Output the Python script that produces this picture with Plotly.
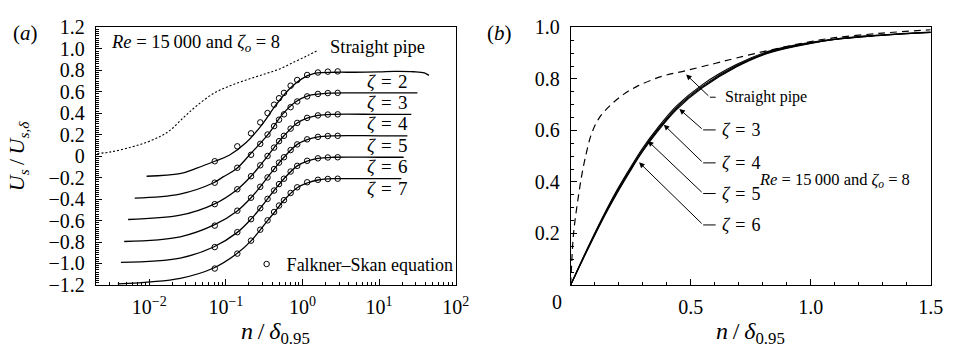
import plotly.graph_objects as go

FONT = "Liberation Serif, Times New Roman, DejaVu Serif, serif"

# ---------------- panel (a): semi-log profiles, each ζ shifted down by 0.2 ----------------
A_ZETA2_X = [0.00923, 0.0251, 0.0417, 0.0716, 0.112, 0.184, 0.302, 0.448, 0.665, 0.991,
             1.47, 2.67, 4.79, 10.0, 15.8, 28.2, 38.9, 44.7]
A_ZETA2_Y = [-0.187, -0.163, -0.111, -0.047, 0.011, 0.127, 0.302, 0.476, 0.622, 0.723,
             0.773, 0.782, 0.782, 0.785, 0.790, 0.787, 0.776, 0.753]

A_ZETA3_X = [0.00646, 0.0251, 0.0682, 0.0918, 0.136, 0.203, 0.367, 0.547, 0.811, 1.20,
             2.19, 5.0, 10.0, 31.6]
A_ZETA3_Y = [-0.390, -0.353, -0.250, -0.193, -0.120, 0.011, 0.215, 0.389, 0.505, 0.564,
             0.587, 0.590, 0.590, 0.590]

A_ZETA4_X = [0.0053, 0.0254, 0.0692, 0.141, 0.213, 0.281, 0.350, 0.426, 0.573, 0.853,
             1.15, 1.59, 2.5, 10.0, 26.3]
A_ZETA4_Y = [-0.590, -0.550, -0.449, -0.310, -0.187, -0.085, 0.000, 0.080, 0.190, 0.310,
             0.355, 0.380, 0.390, 0.390, 0.390]

A_ZETA5_X = [0.00471, 0.0254, 0.0692, 0.141, 0.213, 0.281, 0.350, 0.426, 0.573, 0.853,
             1.15, 1.59, 2.5, 10.0, 23.4]
A_ZETA5_Y = [-0.795, -0.751, -0.643, -0.510, -0.387, -0.285, -0.198, -0.120, -0.010, 0.110,
             0.155, 0.180, 0.190, 0.190, 0.190]

A_ZETA6_X = [0.00427, 0.0254, 0.0692, 0.141, 0.213, 0.281, 0.350, 0.426, 0.573, 0.853,
             1.15, 1.59, 2.5, 10.0, 20.9]
A_ZETA6_Y = [-0.990, -0.949, -0.846, -0.710, -0.587, -0.485, -0.398, -0.320, -0.210, -0.090,
             -0.045, -0.020, -0.010, -0.010, -0.010]

A_ZETA7_X = [0.00389, 0.0254, 0.0692, 0.141, 0.213, 0.281, 0.350, 0.426, 0.573, 0.853,
             1.15, 1.59, 2.5, 10.0, 19.5]
A_ZETA7_Y = [-1.190, -1.138, -1.042, -0.905, -0.789, -0.687, -0.600, -0.527, -0.411, -0.294,
             -0.250, -0.222, -0.210, -0.210, -0.210]

A_PIPE_X = [0.0021, 0.00316, 0.00575, 0.00933, 0.014, 0.0186, 0.028, 0.0417, 0.0692, 0.112,
            0.184, 0.302, 0.49, 0.813, 1.20, 1.62]
A_PIPE_Y = [0.025, 0.040, 0.084, 0.130, 0.186, 0.240, 0.360, 0.470, 0.585, 0.655,
            0.710, 0.760, 0.810, 0.884, 0.942, 0.990]

# Falkner–Skan solution (same profile for every ζ, then shifted)
FS_X = [0.0716, 0.141, 0.213, 0.281, 0.350, 0.426, 0.494, 0.573, 0.70, 0.853, 1.15, 1.59, 2.14, 2.88]
FS_U = [0.153, 0.292, 0.413, 0.515, 0.602, 0.680, 0.740, 0.790, 0.857, 0.910, 0.957, 0.980, 0.988, 0.990]
ZETAS = [2, 3, 4, 5, 6, 7]
SHIFTS = [-0.2, -0.4, -0.6, -0.8, -1.0, -1.2]
ZETA_LABEL_Y = [0.7, 0.5, 0.3, 0.1, -0.1, -0.3]

A_Y_TICKS = [-1.2, -1.0, -0.8, -0.6, -0.4, -0.2, 0, 0.2, 0.4, 0.6, 0.8, 1.0, 1.2]
A_Y_TEXT = ["−1.2", "−1.0", "−0.8", "−0.6", "−0.4", "−0.2", "0", "0.2", "0.4", "0.6", "0.8", "1.0", "1.2"]
A_X_TICKS = [0.01, 0.1, 1, 10, 100]
A_X_TEXT = ["10<sup>−2</sup>", "10<sup>−1</sup>", "10<sup>0</sup>", "10<sup>1</sup>", "10<sup>2</sup>"]

# ---------------- panel (b): linear profiles ----------------
B_X = [0, 0.05, 0.1, 0.15, 0.2, 0.25, 0.3, 0.36, 0.44, 0.55, 0.69, 0.83, 1.0, 1.1, 1.25, 1.5]
B_ZETA3_Y = [0, 0.103, 0.201, 0.294, 0.380, 0.458, 0.532, 0.607, 0.694, 0.779, 0.856, 0.909, 0.942, 0.955, 0.968, 0.982]
B_ZETA4_Y = [0, 0.101, 0.198, 0.290, 0.375, 0.453, 0.526, 0.601, 0.688, 0.773, 0.852, 0.906, 0.940, 0.954, 0.967, 0.981]
B_ZETA5_Y = [0, 0.099, 0.195, 0.286, 0.371, 0.449, 0.522, 0.597, 0.684, 0.769, 0.849, 0.904, 0.939, 0.953, 0.966, 0.980]
B_ZETA6_Y = [0, 0.097, 0.192, 0.283, 0.367, 0.445, 0.518, 0.593, 0.680, 0.766, 0.846, 0.902, 0.938, 0.953, 0.966, 0.980]

B_PIPE_X = [0, 0.004, 0.008, 0.012, 0.018, 0.03, 0.045, 0.06, 0.086, 0.12, 0.168, 0.22, 0.278,
            0.38, 0.484, 0.6, 0.689, 0.826, 1.0, 1.1, 1.3, 1.5]
B_PIPE_Y = [0, 0.08, 0.15, 0.20, 0.25, 0.33, 0.42, 0.49, 0.585, 0.65, 0.70, 0.74, 0.772,
            0.81, 0.833, 0.86, 0.881, 0.911, 0.945, 0.96, 0.978, 0.991]

# arrow callouts: label, text position, leader tail, arrow head
B_CALLOUTS = [
    ("Straight pipe", 0.633, 0.729, 0.580, 0.729, 0.481, 0.817),
    ("<i>ζ</i>\u2004=\u20043", 0.622, 0.602, 0.552, 0.602, 0.453, 0.683),
    ("<i>ζ</i>\u2004=\u20044", 0.622, 0.474, 0.552, 0.474, 0.388, 0.622),
    ("<i>ζ</i>\u2004=\u20045", 0.622, 0.355, 0.552, 0.355, 0.322, 0.559),
    ("<i>ζ</i>\u2004=\u20046", 0.622, 0.233, 0.552, 0.233, 0.285, 0.476),
]

A_CURVES = [(A_ZETA2_X, A_ZETA2_Y), (A_ZETA3_X, A_ZETA3_Y), (A_ZETA4_X, A_ZETA4_Y),
            (A_ZETA5_X, A_ZETA5_Y), (A_ZETA6_X, A_ZETA6_Y), (A_ZETA7_X, A_ZETA7_Y)]
B_CURVES = [B_ZETA3_Y, B_ZETA4_Y, B_ZETA5_Y, B_ZETA6_Y]

BLACK = "black"
fig = go.Figure()

# panel (a)
fig.add_trace(go.Scatter(x=A_PIPE_X, y=A_PIPE_Y, mode="lines", line=dict(color=BLACK, width=1.1, dash="2px,2px"),
                         line_shape="spline", showlegend=False, xaxis="x", yaxis="y"))
for (cx, cy) in A_CURVES:
    fig.add_trace(go.Scatter(x=cx, y=cy, mode="lines", line=dict(color=BLACK, width=1.3),
                             line_shape="spline", showlegend=False, xaxis="x", yaxis="y"))
for i, (z, s) in enumerate(zip(ZETAS, SHIFTS)):
    fig.add_trace(go.Scatter(x=FS_X, y=[u + s for u in FS_U], mode="markers",
                             marker=dict(symbol="circle-open", size=5.5, color=BLACK, line=dict(width=1)),
                             name="Falkner–Skan equation", showlegend=(i == 0), xaxis="x", yaxis="y"))

# panel (b)
fig.add_trace(go.Scatter(x=B_PIPE_X, y=B_PIPE_Y, mode="lines", line=dict(color=BLACK, width=1.2, dash="7px,5px"),
                         line_shape="spline", showlegend=False, xaxis="x2", yaxis="y2"))
for cy in B_CURVES:
    fig.add_trace(go.Scatter(x=B_X, y=cy, mode="lines", line=dict(color=BLACK, width=1.1),
                             line_shape="spline", showlegend=False, xaxis="x2", yaxis="y2"))

tickfont = dict(family=FONT, size=20, color=BLACK)
XA = [97 / 960, 462 / 960]
XB = [578.5 / 960, 943.5 / 960]
YD = [1 - 292 / 356, 1 - 17.5 / 356]

base = dict(showgrid=False, zeroline=False, showline=True, linecolor=BLACK, linewidth=1,
            tickcolor=BLACK, tickwidth=1, tickfont=tickfont, mirror=True)

fig.update_layout(
    width=960, height=356, margin=dict(l=0, r=0, t=0, b=0),
    paper_bgcolor="white", plot_bgcolor="white",
    font=dict(family=FONT, color=BLACK),
    xaxis=dict(base, domain=XA, anchor="y", type="log", range=[-2.699, 2],
               tickmode="array", tickvals=A_X_TICKS, ticktext=A_X_TEXT,
               ticks="inside", ticklen=6, ticklabelstandoff=4,
               minor=dict(ticks="inside", ticklen=3, dtick="D1", tickcolor=BLACK)),
    yaxis=dict(base, domain=YD, anchor="x", range=[-1.2, 1.2],
               tickmode="array", tickvals=A_Y_TICKS, ticktext=A_Y_TEXT,
               ticks="inside", ticklen=6, ticklabelstandoff=6,
               minor=dict(ticks="inside", ticklen=3, dtick=0.02, tickcolor=BLACK)),
    xaxis3=dict(overlaying="x", anchor="y", side="top", type="log", range=[-2.699, 2],
                showgrid=False, zeroline=False, showline=False, showticklabels=False,
                tickmode="array", tickvals=A_X_TICKS, ticks="outside", ticklen=5, tickcolor=BLACK,
                minor=dict(ticks="outside", ticklen=3, dtick="D1", tickcolor=BLACK)),
    yaxis3=dict(overlaying="y", anchor="x", side="right", range=[-1.2, 1.2],
                showgrid=False, zeroline=False, showline=False, showticklabels=False,
                tickmode="array", tickvals=A_Y_TICKS, ticks="outside", ticklen=5, tickcolor=BLACK,
                minor=dict(ticks="outside", ticklen=3, dtick=0.02, tickcolor=BLACK)),
    xaxis2=dict(base, domain=XB, anchor="y2", range=[0, 1.5],
                tickmode="array", tickvals=[0, 0.5, 1.0, 1.5], ticktext=["", "0.5", "1.0", "1.5"],
                ticks="inside", ticklen=6, ticklabelstandoff=4,
                minor=dict(ticks="inside", ticklen=3, dtick=0.1, tickcolor=BLACK)),
    yaxis2=dict(base, domain=YD, anchor="x2", range=[0, 1.0],
                tickmode="array", tickvals=[0, 0.2, 0.4, 0.6, 0.8, 1.0], ticktext=["", "0.2", "0.4", "0.6", "0.8", "1.0"],
                ticks="inside", ticklen=6, ticklabelstandoff=6,
                minor=dict(ticks="inside", ticklen=3, dtick=0.05, tickcolor=BLACK)),
    xaxis4=dict(overlaying="x2", anchor="y2", side="top", range=[0, 1.5],
                showgrid=False, zeroline=False, showline=False, showticklabels=False,
                tickmode="array", tickvals=[0, 0.5, 1.0, 1.5], ticks="outside", ticklen=5, tickcolor=BLACK,
                minor=dict(ticks="outside", ticklen=3, dtick=0.1, tickcolor=BLACK)),
    yaxis4=dict(overlaying="y2", anchor="x2", side="right", range=[0, 1.0],
                showgrid=False, zeroline=False, showline=False, showticklabels=False,
                tickmode="array", tickvals=[0, 0.2, 0.4, 0.6, 0.8, 1.0], ticks="outside", ticklen=5, tickcolor=BLACK,
                minor=dict(ticks="outside", ticklen=3, dtick=0.05, tickcolor=BLACK)),
    legend=dict(x=250 / 960, y=1 - 270 / 356, xanchor="left", yanchor="middle",
                bgcolor="rgba(0,0,0,0)", borderwidth=0,
                font=dict(family=FONT, size=18, color=BLACK)),
    showlegend=True,
)

ann = []


def txt(x, y, text, size, xanchor="left", xref="paper", yref="paper", angle=0, yanchor="middle"):
    ann.append(dict(x=x, y=y, xref=xref, yref=yref, text=text, showarrow=False,
                    xanchor=xanchor, yanchor=yanchor, textangle=angle,
                    font=dict(family=FONT, size=size, color=BLACK)))


# panel labels and axis titles
txt(11 / 960, 1 - 23 / 356, "(<i>a</i>)", 21)
txt(492 / 960, 1 - 23 / 356, "(<i>b</i>)", 21)
txt(279.5 / 960, 1 - 343 / 356, "<i>n</i>\u2009/\u2009<i>δ</i><sub>0.95</sub>", 24, xanchor="center")
txt(761 / 960, 1 - 343 / 356, "<i>n</i>\u2009/\u2009<i>δ</i><sub>0.95</sub>", 24, xanchor="center")
txt(19 / 960, 1 - 154 / 356, "<i>U<sub>s</sub></i>\u2009/\u2009<i>U<sub>s,δ</sub></i>", 22, xanchor="center", angle=-90)
txt(565 / 960, 1 - 310 / 356, "0", 20, xanchor="center")

# panel (a) texts
txt(110 / 960, 1 - 35 / 356, "<i>Re</i> = 15\u2009000 and <i>ζ<sub>o</sub></i> = 8", 18.5)
txt(333 / 960, 1 - 38 / 356, "Straight pipe", 18.5)
for z, ly in zip(ZETAS, ZETA_LABEL_Y):
    txt(1.107, ly, f"<i>ζ</i>\u2004=\u2004{z}", 19, xanchor="center", xref="x", yref="y")

# panel (b) texts and callouts
txt(925 / 960, 1 - 180 / 356, "<i>Re</i> = 15\u2009000 and <i>ζ<sub>o</sub></i> = 8", 16.5, xanchor="right")
for label, tx, ty, x0, y0, hx, hy in B_CALLOUTS:
    ann.append(dict(x=hx, y=hy, ax=x0, ay=y0, xref="x2", yref="y2", axref="x2", ayref="y2",
                    text="", showarrow=True, arrowhead=2, arrowsize=1.1, arrowwidth=1,
                    arrowcolor=BLACK, standoff=0, startstandoff=0))
    fig.add_shape(type="line", xref="x2", yref="y2", x0=x0, y0=y0, x1=0.604, y1=y0,
                  line=dict(color=BLACK, width=1))
    size = 16 if label == "Straight pipe" else 18
    txt(tx, ty, label, size, xref="x2", yref="y2")

fig.update_layout(annotations=ann)
fig.write_html("out.html")
